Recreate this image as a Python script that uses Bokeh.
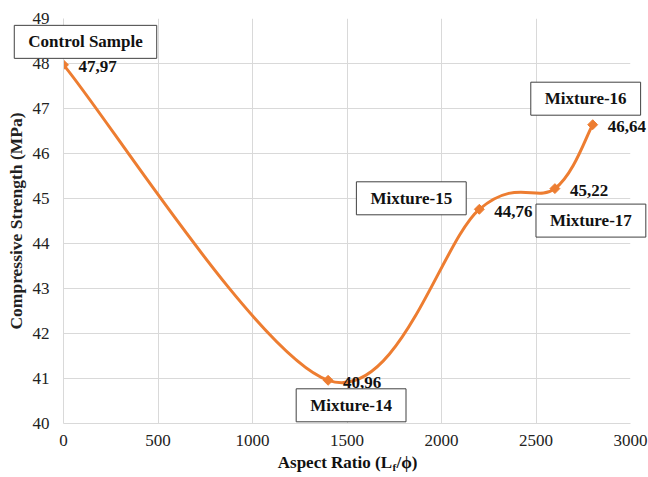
import numpy as np
from bokeh.plotting import figure
from bokeh.layouts import column
from bokeh.models import Range1d, FixedTicker, Label, ColumnDataSource
from bokeh.embed import file_html
from bokeh.resources import INLINE

# ---- data ----
aspect_ratio = [0, 1400, 2200, 2600, 2800]
strength = [47.97, 40.96, 44.76, 45.22, 46.64]
sample_names = ["Control Sample", "Mixture-14", "Mixture-15", "Mixture-17", "Mixture-16"]
x_ticks = [0, 500, 1000, 1500, 2000, 2500, 3000]
y_ticks = [40, 41, 42, 43, 44, 45, 46, 47, 48, 49]

# ---- style / layout ----
FONT = "'Liberation Serif', 'Times New Roman', serif"
ORANGE = "#ED7D31"
GRID = "#d9d9d9"
W, H = 648, 477
BL, BR, BT, BB = 63, 18, 18, 54          # frame borders of the main plot
X0, X1, Y0, Y1 = 0, 3000, 40, 49
# callout offsets (screen px) relative to each point: (dx, dy up)
callout_offsets = [(22, 23), (23, -25), (-68, 11), (36, -32), (-7, 26)]

p = figure(width=W, height=H, x_range=Range1d(X0, X1), y_range=Range1d(Y0, Y1),
           output_backend="svg", toolbar_location=None,
           min_border_left=BL, min_border_right=BR, min_border_top=BT, min_border_bottom=BB)
p.outline_line_color = None
p.background_fill_color = "white"

for ax in (p.xaxis, p.yaxis):
    ax.major_tick_line_color = None
    ax.minor_tick_line_color = None
    ax.major_tick_out = 0
    ax.major_tick_in = 0
    ax.axis_line_color = GRID
    ax.major_label_text_font = FONT
    ax.major_label_text_font_size = "17px"
    ax.major_label_text_color = "#222222"

p.xaxis.ticker = FixedTicker(ticks=x_ticks)
p.yaxis.ticker = FixedTicker(ticks=y_ticks)
p.xaxis.major_label_standoff = 11
p.yaxis.major_label_standoff = 14

p.yaxis.axis_label = "Compressive Strength (MPa)"
p.yaxis.axis_label_text_font = FONT
p.yaxis.axis_label_text_font_style = "bold"
p.yaxis.axis_label_text_font_size = "17.5px"
p.yaxis.axis_label_text_color = "#222222"
p.yaxis.axis_label_standoff = 4

p.xgrid.ticker = FixedTicker(ticks=x_ticks)
p.ygrid.ticker = FixedTicker(ticks=y_ticks)
p.xgrid.grid_line_color = GRID
p.ygrid.grid_line_color = GRID

# ---- smooth curve (Catmull-Rom style bezier, like Excel smoothed line) ----
xs = np.array(aspect_ratio, dtype=float)
ys = np.array(strength, dtype=float)
n = len(xs)
xp = np.concatenate([[xs[0]], xs, [xs[-1]]])
yp = np.concatenate([[ys[0]], ys, [ys[-1]]])
seg = dict(x0=[], y0=[], x1=[], y1=[], cx0=[], cy0=[], cx1=[], cy1=[])
for i in range(n - 1):
    j = i + 1
    seg["x0"].append(xs[i]); seg["y0"].append(ys[i])
    seg["x1"].append(xs[i + 1]); seg["y1"].append(ys[i + 1])
    seg["cx0"].append(xs[i] + (xp[j + 1] - xp[j - 1]) / 6)
    seg["cy0"].append(ys[i] + (yp[j + 1] - yp[j - 1]) / 6)
    seg["cx1"].append(xs[i + 1] - (xp[j + 2] - xp[j]) / 6)
    seg["cy1"].append(ys[i + 1] - (yp[j + 2] - yp[j]) / 6)
p.bezier(source=ColumnDataSource(seg), x0="x0", y0="y0", x1="x1", y1="y1",
         cx0="cx0", cy0="cy0", cx1="cx1", cy1="cy1",
         line_color=ORANGE, line_width=3, line_cap="round")

src = ColumnDataSource(dict(x=aspect_ratio, y=strength))
p.scatter("x", "y", source=src, marker="square", angle=np.pi / 4, size=7,
          fill_color=ORANGE, line_color=ORANGE)

# ---- transparent overlay with the same data mapping, frame = whole canvas ----
fw, fh = W - BL - BR, H - BT - BB
sx, sy = (X1 - X0) / fw, (Y1 - Y0) / fh
q = figure(width=W, height=H,
           x_range=Range1d(X0 - BL * sx, X1 + BR * sx),
           y_range=Range1d(Y0 - BB * sy, Y1 + BT * sy),
           output_backend="svg", toolbar_location=None,
           x_axis_location=None, y_axis_location=None,
           min_border=0, margin=(-H, 0, 0, 0))
q.outline_line_color = None
q.background_fill_color = None
q.border_fill_color = None
q.grid.visible = False
for fig in (p, q):
    if "frame_align" in fig.properties():
        fig.frame_align = False

text_kw = dict(text_font=FONT, text_font_style="bold", text_color="#111111")

for xv, yv in zip(aspect_ratio, strength):
    q.add_layout(Label(x=xv, y=yv, x_offset=15, y_offset=-2,
                       text=f"{yv:.2f}".replace(".", ","),
                       text_align="left", text_baseline="middle",
                       text_font_size="17px", **text_kw))

for xv, yv, name, (dx, dy) in zip(aspect_ratio, strength, sample_names, callout_offsets):
    q.add_layout(Label(x=xv, y=yv, x_offset=dx, y_offset=dy, text=name,
                       text_align="center", text_baseline="middle",
                       text_font_size="17px", **text_kw,
                       background_fill_color="white", border_line_color="#404040",
                       border_line_width=1,
                       padding=dict(left=14, right=14, top=7, bottom=7)))

# ---- x axis title with subscript ----
title_kw = dict(x=(X0 + X1) / 2, y=Y0, text_baseline="middle", **text_kw)
q.add_layout(Label(text="Aspect Ratio (L", x_offset=45, y_offset=-39, text_align="right",
                   text_font_size="17px", **title_kw))
q.add_layout(Label(text="f", x_offset=45.5, y_offset=-43, text_align="left",
                   text_font_size="11px", **title_kw))
q.add_layout(Label(text="/ϕ)", x_offset=49.5, y_offset=-39, text_align="left",
                   text_font_size="17px", **title_kw))

layout = column(p, q, spacing=0)
open("out.html", "w").write(file_html(layout, INLINE))
